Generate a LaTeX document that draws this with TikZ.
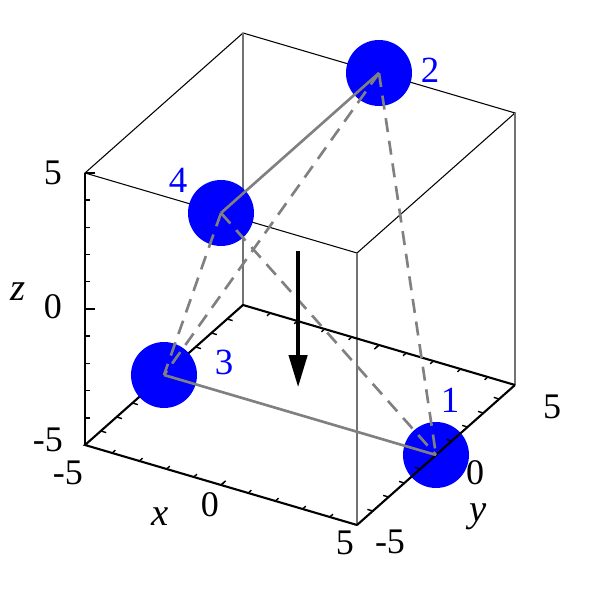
\documentclass[tikz,border=0pt]{standalone}
\usepackage{fontspec}
\setmainfont{Liberation Serif}
\usetikzlibrary{arrows.meta}

\begin{document}
\begin{tikzpicture}[
    % --- Projection of the box ---
    x={(0.544cm,-0.16cm)},
    y={(0.316cm,0.28cm)},
    z={(0cm,0.544cm)},
    % --- Box styles ---
    axis/.style={draw, black, line width=1.2pt},
    rim/.style={draw, black, line width=0.6pt},
    post/.style={draw, black!55, line width=0.8pt},
    tickline/.style={draw, black, line width=0.8pt},
    % --- Particle styles ---
    ball/.style={circle, fill=blue, inner sep=0pt, minimum size=1.32cm},
    num/.style={font=\fontsize{21}{21}\selectfont, text=blue, inner sep=0pt},
    val/.style={font=\fontsize{20.5}{21}\selectfont, inner sep=0pt},
    var/.style={font=\fontsize{22}{22}\selectfont\itshape, inner sep=0pt},
    bond/.style={draw, black!50, line width=1.5pt},
    link/.style={bond, dash pattern=on 8pt off 5pt},
    fall/.style={draw, line width=2.3pt, -{Triangle[length=0.64cm, width=0.36cm]}},
]
\useasboundingbox (-6cm,-6.38cm) rectangle (5.96cm,5.58cm);

% === Box corners ===
\coordinate (fbl) at (-5,-5,-5);
\coordinate (fbr) at (5,-5,-5);
\coordinate (bbr) at (5,5,-5);
\coordinate (bbl) at (-5,5,-5);
\coordinate (ftl) at (-5,-5,5);
\coordinate (ftr) at (5,-5,5);
\coordinate (btr) at (5,5,5);
\coordinate (btl) at (-5,5,5);

% === Box edges ===
\draw[rim] (ftl) -- (ftr) -- (btr) -- (btl) -- cycle;
\draw[post] (fbr) -- (ftr);
\draw[post] (bbr) -- (btr);
\draw[post] (bbl) -- (btl);
\draw[axis] (fbl) -- (ftl);
\draw[axis] (bbr) -- (bbl) -- (fbl) -- (fbr);

% === Ticks ===
\foreach \k in {-4,...,4} {
  \draw[tickline] (\k,-5,-5) -- ++(0,0.2,0);
  \draw[tickline] (\k,5,-5) -- ++(0,-0.2,0);
  \draw[tickline] (-5,\k,-5) -- ++(0.2,0,0);
  \draw[tickline] (-5,-5,\k) -- ++(0.1cm,0cm);
}
\draw[tickline] (0,-5,-5) -- ++(0,0.3,0);
\draw[tickline] (0,5,-5) -- ++(0,-0.3,0);
\draw[tickline] (-5,0,-5) -- ++(0.3,0,0);
\draw[tickline] (-5,-5,0) -- ++(0.2cm,0cm);
\draw[tickline] (-5,-5,5) -- ++(0.2cm,0cm);

% === Axis labels ===
\node[val] (z5) at (-4.94cm,2.12cm) {5};
\node[val] (z0) at (-4.94cm,-0.56cm) {0};
\node[val] (zm) at (-5.04cm,-3.22cm) {-5};
\node[var] (zl) at (-5.64cm,-0.26cm) {z};
\node[val] (xm) at (-4.64cm,-3.88cm) {-5};
\node[val] (x0) at (-1.8cm,-4.52cm) {0};
\node[val] (x5) at (0.9cm,-5.28cm) {5};
\node[var] (xl) at (-2.8cm,-4.76cm) {x};
\node[val] (ym) at (1.8cm,-5.26cm) {-5};
\node[val] (y0) at (3.5cm,-3.88cm) {0};
\node[val] (y5) at (5.04cm,-2.56cm) {5};
\node[var] (yl) at (3.56cm,-4.76cm) {y};

% === Particles ===
\node[ball] (s1) at (5,0,-5) {};
\node[ball] (s2) at (0,5,5) {};
\node[ball] (s3) at (-5,0,-5) {};
\node[ball] (s4) at (0,-5,5) {};
\node[num] (n1) at (3.0cm,-2.42cm) {1};
\node[num] (n2) at (2.6cm,4.18cm) {2};
\node[num] (n3) at (-1.52cm,-1.66cm) {3};
\node[num] (n4) at (-2.44cm,1.98cm) {4};

% y axis runs in front of particle 1
\draw[axis] (fbr) -- (bbr);
\foreach \k in {-4,...,4}
  \draw[tickline] (5,\k,-5) -- ++(-0.2,0,0);
\draw[tickline] (5,0,-5) -- ++(-0.3,0,0);

% === Bonds ===
\draw[bond] (s4.center) -- (s2.center);
\draw[bond] (s3.center) -- (s1.center);
\draw[link] (s4.center) -- (s3.center);
\draw[link] (s4.center) -- (s1.center);
\draw[link] (s2.center) -- (s3.center);
\draw[link] (s2.center) -- (s1.center);

% === Falling direction ===
\coordinate (gtop) at (-0.07,0,1);
\coordinate (gbot) at (-0.07,0,-4);
\draw[fall] (gtop) -- (gbot);

\end{tikzpicture}
\end{document}
